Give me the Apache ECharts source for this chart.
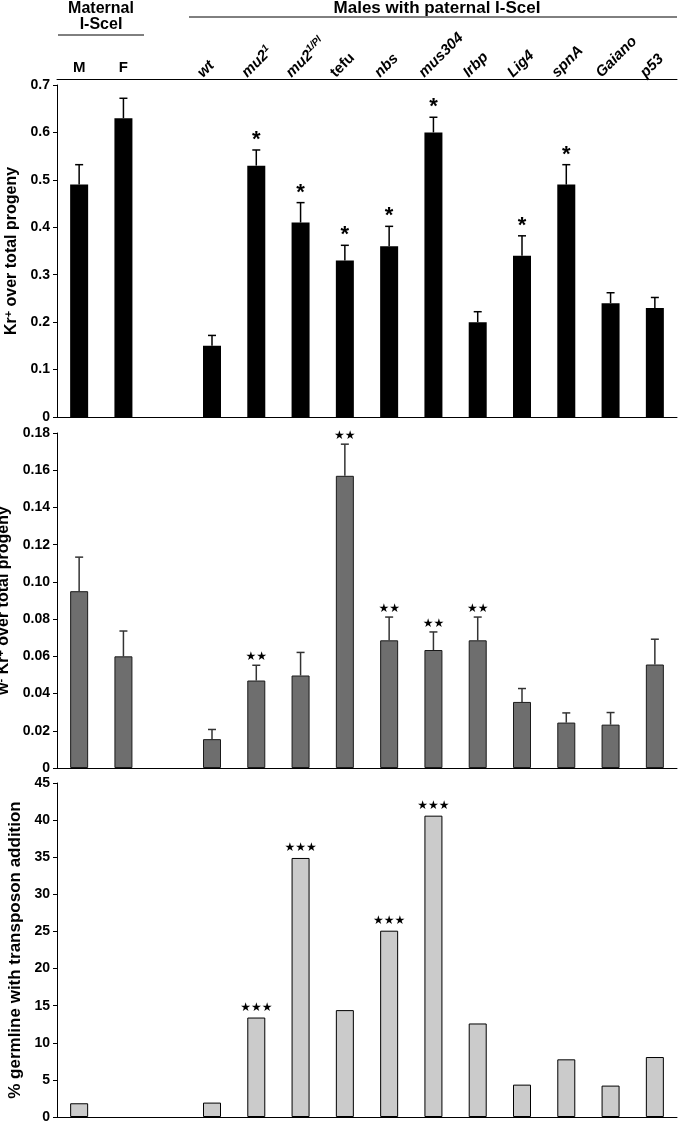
<!DOCTYPE html>
<html>
<head>
<meta charset="utf-8">
<title>Kr+ / w- Kr+ / transposon addition</title>
<script src="https://cdn.jsdelivr.net/npm/echarts@6/dist/echarts.min.js"></script>
<style>
  html, body { margin: 0; padding: 0; background: #fff; }
  #chart { width: 680px; height: 1123px; }
</style>
</head>
<body>
<div id="chart"></div>
<script>
  // categories (slot 3 is an empty gap between maternal and paternal groups)
  var categories = ['M', 'F', '', 'wt', 'mu2^1', 'mu2^1/Pl', 'tefu', 'nbs', 'mus304', 'Irbp', 'Lig4', 'spnA', 'Gaiano', 'p53'];

  // panel 1: Kr+ over total progeny
  var krValues = [0.49, 0.63, null, 0.15, 0.53, 0.41, 0.33, 0.36, 0.60, 0.20, 0.34, 0.49, 0.24, 0.23];
  var krErrors = [0.042, 0.042, null, 0.022, 0.033, 0.042, 0.032, 0.042, 0.032, 0.022, 0.042, 0.042, 0.022, 0.022];
  var krStars = ['', '', '', '', '*', '*', '*', '*', '*', '', '*', '*', '', ''];

  // panel 2: w- Kr+ over total progeny
  var wkrValues = [0.095, 0.060, null, 0.0155, 0.047, 0.0497, 0.157, 0.0686, 0.0634, 0.0686, 0.0355, 0.0244, 0.0233, 0.0556];
  var wkrErrors = [0.0183, 0.0136, null, 0.0052, 0.0082, 0.0124, 0.017, 0.0125, 0.0097, 0.0125, 0.0072, 0.0052, 0.0065, 0.0136];
  var wkrStars = ['', '', '', '', '★★', '', '★★', '★★', '★★', '★★', '', '', '', ''];

  // panel 3: % germline with transposon addition
  var tpValues = [1.85, null, null, 1.94, 13.4, 34.9, 14.4, 25.1, 40.6, 12.6, 4.36, 7.77, 4.23, 8.08];
  var tpStars = ['', '', '', '', '★★★', '★★★', '', '★★★', '★★★', '', '', '', '', ''];

  var FONT = 'Liberation Sans, Arial, Helvetica, sans-serif';
  var chart = echarts.init(document.getElementById('chart'));

  var grids = [
    { left: 57, right: 3, top: 85, height: 332, containLabel: false, outerBoundsMode: 'none' },
    { left: 57, right: 3, top: 433, height: 335, containLabel: false, outerBoundsMode: 'none' },
    { left: 57, right: 3, top: 783, height: 334, containLabel: false, outerBoundsMode: 'none' },
    // same size as the first grid, nudged left: only carries the slanted genotype labels
    { left: 45, right: 15, top: 85, height: 332, containLabel: false, outerBoundsMode: 'none' }
  ];

  function catLabel(v) {
    if (v === 'mu2^1') return '{i|mu2}{s|1}';
    if (v === 'mu2^1/Pl') return '{i|mu2}{s|1/Pl}';
    if (v === 'tefu') return '{n|tefu}';
    return '{i|' + v + '}';
  }
  var labelRich = {
    i: { fontFamily: FONT, fontWeight: 'bold', fontStyle: 'italic', fontSize: 15, color: '#000' },
    n: { fontFamily: FONT, fontWeight: 'bold', fontSize: 15, color: '#000' },
    s: { fontFamily: FONT, fontWeight: 'bold', fontStyle: 'italic', fontSize: 10, color: '#000', verticalAlign: 'top', padding: [0, 0, 8, 0] }
  };

  var lineStyle = { color: '#000', width: 1 };

  function bottomAxis(gi) {
    return {
      gridIndex: gi, type: 'category', data: categories, position: 'bottom',
      axisLine: { lineStyle: lineStyle },
      axisTick: { length: 4, lineStyle: lineStyle },
      axisLabel: { show: false },
      splitLine: { show: false }
    };
  }

  function valueAxis(gi, max, interval, digits, name, gap, nameSize) {
    return {
      gridIndex: gi, type: 'value', min: 0, max: max, interval: interval,
      axisLine: { show: true, lineStyle: lineStyle },
      axisTick: { show: true, length: 4, lineStyle: lineStyle },
      splitLine: { show: false },
      axisLabel: {
        margin: 7, fontFamily: FONT, fontWeight: 'bold', fontSize: 14, color: '#000',
        formatter: function (v) { return v === 0 ? '0' : v.toFixed(digits); }
      },
      name: name, nameLocation: 'middle', nameGap: gap,
      nameTextStyle: {
        rich: {
          b: { fontFamily: FONT, fontWeight: 'bold', fontSize: nameSize, color: '#000' },
          sup: { fontFamily: FONT, fontWeight: 'bold', fontSize: 11, color: '#000', verticalAlign: 'top' }
        }
      }
    };
  }

  function errorSeries(xi, yi, values, errors, stars, color, starFont, starGap) {
    return {
      type: 'custom', xAxisIndex: xi, yAxisIndex: yi, z: 1,
      data: categories.map(function (c, i) { return [i, values[i], errors[i]]; }),
      renderItem: function (params, api) {
        var v = api.value(1), e = api.value(2);
        if (isNaN(v) || isNaN(e)) return null;
        var base = api.coord([api.value(0), v]);
        var top = api.coord([api.value(0), v + e]);
        var children = [
          { type: 'line', shape: { x1: base[0], y1: base[1], x2: top[0], y2: top[1] }, style: { stroke: color, lineWidth: 1.5 } },
          { type: 'line', shape: { x1: top[0] - 4, y1: top[1], x2: top[0] + 4, y2: top[1] }, style: { stroke: color, lineWidth: 1.5 } }
        ];
        var s = stars[params.dataIndex];
        if (s) {
          children.push({ type: 'text', style: { text: s, x: top[0], y: top[1] - starGap, align: 'center', verticalAlign: 'middle', font: starFont, fill: '#000' } });
        }
        return { type: 'group', children: children };
      }
    };
  }

  var option = {
    animation: false,
    backgroundColor: '#fff',
    grid: grids,
    xAxis: [
      bottomAxis(0),
      bottomAxis(1),
      bottomAxis(2),
      {
        gridIndex: 0, type: 'category', data: categories, position: 'top', offset: 6,
        axisLine: { lineStyle: lineStyle },
        axisTick: { length: 4, lineStyle: lineStyle },
        axisLabel: {
          interval: 0, margin: 4, fontFamily: FONT, fontWeight: 'bold', fontSize: 15, color: '#000',
          formatter: function (v) { return (v === 'M' || v === 'F') ? v : ''; }
        }
      },
      {
        gridIndex: 3, type: 'category', data: categories, position: 'top', offset: 6,
        axisLine: { show: false }, axisTick: { show: false },
        axisLabel: {
          interval: 0, rotate: 45, margin: 4, rich: labelRich,
          formatter: function (v) { return (v === 'M' || v === 'F' || v === '') ? '' : catLabel(v); }
        }
      }
    ],
    yAxis: [
      valueAxis(0, 0.7, 0.1, 1, '{b|Kr}{sup|+}{b| over total progeny}', 32, 16),
      valueAxis(1, 0.18, 0.02, 2, '{b|w}{sup|-}{b| Kr}{sup|+}{b| over total progeny}', 38, 16),
      valueAxis(2, 45, 5, 0, '{b|% germline with transposon addition}', 32, 17),
      { gridIndex: 3, type: 'value', show: false }
    ],
    graphic: [
      { type: 'text', style: { text: 'Maternal', x: 101, y: 9, align: 'center', verticalAlign: 'middle', font: 'bold 16px ' + FONT, fill: '#000' } },
      { type: 'text', style: { text: 'I-SceI', x: 101, y: 25, align: 'center', verticalAlign: 'middle', font: 'bold 16px ' + FONT, fill: '#000' } },
      { type: 'line', shape: { x1: 58, y1: 35, x2: 144, y2: 35 }, style: { stroke: '#000', lineWidth: 1 } },
      { type: 'text', style: { text: 'Males with paternal I-SceI', x: 437, y: 8, align: 'center', verticalAlign: 'middle', font: 'bold 17px ' + FONT, fill: '#000' } },
      { type: 'line', shape: { x1: 189, y1: 17, x2: 677, y2: 17 }, style: { stroke: '#000', lineWidth: 1 } }
    ],
    series: [
      {
        type: 'bar', xAxisIndex: 0, yAxisIndex: 0, barWidth: 18, z: 2,
        itemStyle: { color: '#000' },
        data: krValues
      },
      errorSeries(0, 0, krValues, krErrors, krStars, '#000', 'bold 22px ' + FONT, 10),
      {
        type: 'bar', xAxisIndex: 1, yAxisIndex: 1, barWidth: 18, z: 2,
        itemStyle: { color: '#6e6e6e', borderColor: '#1a1a1a', borderWidth: 1 },
        data: wkrValues
      },
      errorSeries(1, 1, wkrValues, wkrErrors, wkrStars, '#333', '12px DejaVu Sans', 8),
      {
        type: 'bar', xAxisIndex: 2, yAxisIndex: 2, barWidth: 18, z: 2,
        itemStyle: { color: '#cbcbcb', borderColor: '#000', borderWidth: 1 },
        label: {
          show: true, position: 'top', distance: 4, fontFamily: 'DejaVu Sans', fontSize: 12, color: '#000',
          formatter: function (p) { return tpStars[p.dataIndex]; }
        },
        data: tpValues
      }
    ]
  };

  chart.setOption(option);
</script>
</body>
</html>
